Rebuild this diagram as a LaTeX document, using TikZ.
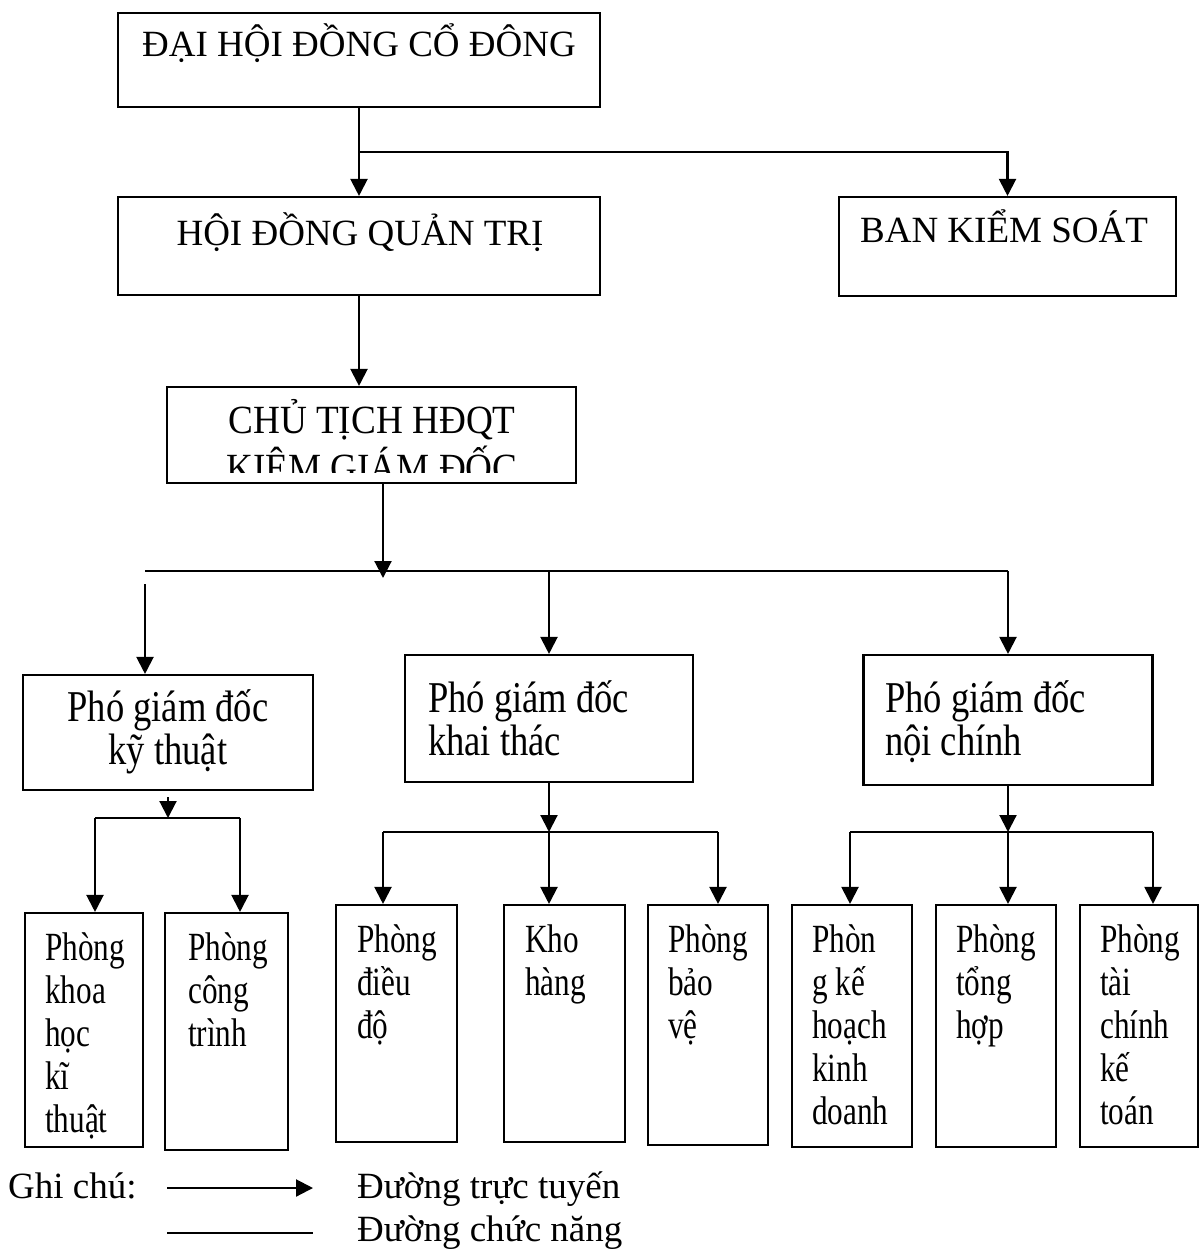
\documentclass[tikz,border=0pt]{standalone}
\usepackage{fontspec}
\setmainfont{Liberation Serif}
\newfontfamily\narrowA[FakeStretch=0.83]{Liberation Serif}
\newfontfamily\narrowB[FakeStretch=0.78]{Liberation Serif}
\newfontfamily\narrowC[FakeStretch=0.93]{Liberation Serif}
\usetikzlibrary{arrows.meta}
\tikzset{>={Triangle[length=17pt,width=17pt]}}
\tikzset{box/.style={draw,line width=2.1pt,inner sep=0pt},
  big/.style={font=\fontsize{37}{42}\selectfont,inner sep=0pt},
  mid/.style={font=\narrowA\fontsize{44}{42}\selectfont,inner sep=0pt},
  sm/.style={font=\narrowB\fontsize{40}{43}\selectfont,inner sep=0pt,anchor=base west},
  ln/.style={line width=2.1pt}}
\newcommand{\stk}[2][l]{\begin{tabular}[t]{@{}#1@{}}#2\end{tabular}}

\begin{document}
\begin{tikzpicture}[x=1pt,y=-1pt]
\useasboundingbox (0,0) rectangle (1200,1249);
% upper boxes
\node[box,minimum width=482pt,minimum height=94pt] (DH) at (359,60) {};
\node[box,minimum width=482pt,minimum height=98pt] (HD) at (359,246) {};
\node[box,minimum width=337pt,minimum height=99pt] (BKS) at (1007.5,246.5) {};
\node[box,minimum width=409pt,minimum height=96pt] (CT) at (371.5,435) {};
\node[big,anchor=base] (tDH) at (359,57) {ĐẠI HỘI ĐỒNG CỔ ĐÔNG};
\node[big,anchor=base] (tHD) at (360,245) {HỘI ĐỒNG QUẢN TRỊ};
\node[big,anchor=base] (tBKS) at (1004,243) {BAN KIỂM SOÁT};
\begin{scope}
\clip (170,390) rectangle (573,472);
\node[big,font=\narrowC\fontsize{40}{42}\selectfont,anchor=base] (tCT) at (372,433) {\stk[c]{CHỦ TỊCH HĐQT\\KIÊM GIÁM ĐỐC}};
\end{scope}
% pho giam doc
\node[box,minimum width=290pt,minimum height=115pt] (PK) at (168,732.5) {};
\node[box,minimum width=288pt,minimum height=127pt] (PKT) at (549,718.5) {};
\node[box,minimum width=289pt,minimum height=130pt] (PNC) at (1008,720) {};
\node[mid,anchor=base] (tPK) at (168,721) {\stk[c]{Phó giám đốc\\kỹ thuật}};
\node[mid,anchor=base west] (tPKT) at (428,712) {\stk{Phó giám đốc\\khai thác}};
\node[mid,anchor=base west] (tPNC) at (885,712) {\stk{Phó giám đốc\\nội chính}};
% phong ban
\node[box,minimum width=118pt,minimum height=234pt] (P1) at (84,1030) {};
\node[box,minimum width=123pt,minimum height=237pt] (P2) at (226.5,1031.5) {};
\node[box,minimum width=121pt,minimum height=237pt] (P3) at (396.5,1023.5) {};
\node[box,minimum width=121pt,minimum height=237pt] (P4) at (564.5,1023.5) {};
\node[box,minimum width=120pt,minimum height=240pt] (P5) at (708,1025) {};
\node[box,minimum width=120pt,minimum height=242pt] (P6) at (852,1026) {};
\node[box,minimum width=120pt,minimum height=242pt] (P7) at (996,1026) {};
\node[box,minimum width=118pt,minimum height=242pt] (P8) at (1139,1026) {};
\node[sm] (t1) at (45,960) {\stk{Phòng\\khoa\\học\\kĩ\\thuật}};
\node[sm] (t2) at (188,960) {\stk{Phòng\\công\\trình}};
\node[sm] (t3) at (357,952) {\stk{Phòng\\điều\\độ}};
\node[sm] (t4) at (525,952) {\stk{Kho\\hàng}};
\node[sm] (t5) at (668,952) {\stk{Phòng\\bảo\\vệ}};
\node[sm] (t6) at (812,952) {\stk{Phòn\\g kế\\hoạch\\kinh\\doanh}};
\node[sm] (t7) at (956,952) {\stk{Phòng\\tổng\\hợp}};
\node[sm] (t8) at (1100,952) {\stk{Phòng\\tài\\chính\\kế\\toán}};
% connectors top
\coordinate (A) at (359,152);
\draw[ln,->] (DH.south) -- (HD.north);
\draw[ln,->] (A) -| (BKS.north);
\draw[ln,->] (HD.south) -- (HD.south |- CT.north);
\coordinate (B) at (383,578);
\draw[ln,->] (CT.south -| B) -- (B);
\coordinate (C1) at (145,571);
\coordinate (C2) at (1008,571);
\coordinate (C3) at (145,584);
\draw[ln] (C1) -- (C2);
\draw[ln,->] (C3) -- (C3 |- PK.north);
\draw[ln,->] (C1 -| PKT.north) -- (PKT.north);
\draw[ln,->] (C2) -- (PNC.north);
% ky thuat
\coordinate (D) at (168,797);
\coordinate (D1) at (168,818);
\coordinate (E1) at (95,818);
\coordinate (E2) at (240,818);
\draw[ln,->] (D) -- (D1);
\draw[ln] (E1) -- (E2);
\draw[ln,->] (E1) -- (E1 |- P1.north);
\draw[ln,->] (E2) -- (E2 |- P2.north);
% khai thac
\coordinate (F) at (549,832);
\coordinate (F1) at (383,832);
\coordinate (F2) at (718,832);
\draw[ln,->] (PKT.south) -- (F);
\draw[ln] (F1) -- (F2);
\draw[ln,->] (F1) -- (F1 |- P3.north);
\draw[ln,->] (F) -- (F |- P4.north);
\draw[ln,->] (F2) -- (F2 |- P5.north);
% noi chinh
\coordinate (G) at (1008,832);
\coordinate (G1) at (850,832);
\coordinate (G2) at (1153,832);
\draw[ln,->] (PNC.south) -- (G);
\draw[ln] (G1) -- (G2);
\draw[ln,->] (G1) -- (G1 |- P6.north);
\draw[ln,->] (G) -- (G |- P7.north);
\draw[ln,->] (G2) -- (G2 |- P8.north);
% ghi chu
\node[big,anchor=base west] (g0) at (8,1198) {Ghi chú:};
\coordinate (L1) at (167,1188);
\coordinate (L2) at (313,1188);
\coordinate (L3) at (167,1233);
\coordinate (L4) at (313,1233);
\draw[ln,->] (L1) -- (L2);
\draw[ln] (L3) -- (L4);
\node[big,anchor=base west] (g1) at (357,1198) {Đường trực tuyến};
\node[big,anchor=base west] (g2) at (357,1241) {Đường chức năng};
\end{tikzpicture}
\end{document}
